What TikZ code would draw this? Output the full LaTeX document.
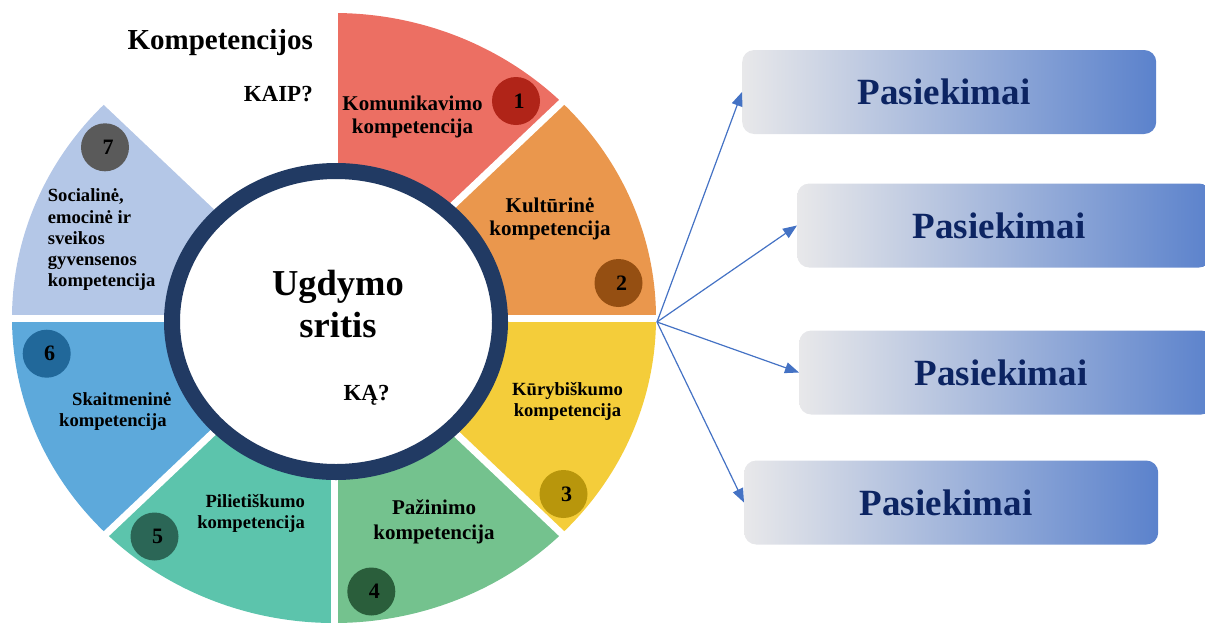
\documentclass[tikz,border=0pt]{standalone}
\usepackage{fontspec}
\setmainfont{Liberation Serif}
\usetikzlibrary{arrows.meta}
\definecolor{cred}{RGB}{236,111,99}
\definecolor{corange}{RGB}{234,151,77}
\definecolor{cyellow}{RGB}{244,205,58}
\definecolor{cgreen}{RGB}{116,194,142}
\definecolor{cteal}{RGB}{92,196,172}
\definecolor{cblue}{RGB}{93,169,219}
\definecolor{clight}{RGB}{180,199,231}
\definecolor{ringc}{RGB}{33,58,99}
\definecolor{n1}{RGB}{176,36,24}
\definecolor{n2}{RGB}{149,79,18}
\definecolor{n3}{RGB}{184,150,12}
\definecolor{n4}{RGB}{42,94,59}
\definecolor{n5}{RGB}{43,102,86}
\definecolor{n6}{RGB}{33,104,154}
\definecolor{n7}{RGB}{90,90,90}
\definecolor{arrblue}{RGB}{68,114,196}
\definecolor{pl}{RGB}{232,232,234}
\definecolor{pm}{RGB}{178,192,222}
\definecolor{pr}{RGB}{91,130,204}
\definecolor{ptxt}{RGB}{12,36,98}
\newcommand\myfs[2]{\fontsize{#1}{#2}\selectfont\bfseries}
\begin{document}
\begin{tikzpicture}[x=1pt,y=-1pt,
  lab/.style={inner sep=0pt, text=black},
  num/.style={circle, inner sep=0pt, minimum size=48pt, text=black, font=\myfs{22}{24}},
  pbox/.style={rounded corners=12pt, minimum width=414pt, minimum height=84pt, inner sep=0pt, anchor=west,
    left color=pl, middle color=pm, right color=pr, text=ptxt, font=\myfs{37}{40}},
  arr/.style={draw=arrblue, line width=1.2pt, -{Triangle[length=14pt,width=11pt]}}]
\useasboundingbox (0,0) rectangle (1205,622);
\clip (0,0) rectangle (1205,622);

% wheel sectors
\begin{scope}[shift={(334,318)}, xscale=322, yscale=305]
  \fill[cred]    (0,0) -- (-90:1) arc[start angle=-90, end angle=-45, radius=1] -- cycle;
  \fill[corange] (0,0) -- (-45:1) arc[start angle=-45, end angle=0,   radius=1] -- cycle;
  \fill[cyellow] (0,0) -- (0:1)   arc[start angle=0,   end angle=45,  radius=1] -- cycle;
  \fill[cgreen]  (0,0) -- (45:1)  arc[start angle=45,  end angle=90,  radius=1] -- cycle;
  \fill[cteal]   (0,0) -- (90:1)  arc[start angle=90,  end angle=135, radius=1] -- cycle;
  \fill[cblue]   (0,0) -- (135:1) arc[start angle=135, end angle=180, radius=1] -- cycle;
  \fill[clight]  (0,0) -- (180:1) arc[start angle=180, end angle=225, radius=1] -- cycle;
  \foreach \a in {-90,-45,...,225} \draw[white, line width=7pt] (0,0) -- (\a:1.1);
\end{scope}

% central ring
\draw[draw=ringc, line width=16pt, fill=white] (336,321.5) ellipse [x radius=164, y radius=150.5];
\node[lab, align=center, font=\myfs{36.5}{42}] (core) at (338,303.6) {Ugdymo\\sritis};
\node[lab, anchor=base, font=\myfs{23}{25}] (ka) at (366.5,400.5) {KĄ?};

% headings
\node[lab, anchor=base east, font=\myfs{29}{31}] (komp) at (313,49) {Kompetencijos};
\node[lab, anchor=base east, font=\myfs{23}{25}] (kaip) at (313,101.7) {KAIP?};

% sector labels
\node[lab, align=center, font=\myfs{21}{23}] (t1) at (412.5,116.7) {Komunikavimo\\kompetencija};
\node[lab, align=center, font=\myfs{21}{23}] (t2) at (550,218.7) {Kultūrinė\\kompetencija};
\node[lab, align=center, font=\myfs{18.6}{21}] (t3) at (567.5,401.2) {Kūrybiškumo\\kompetencija};
\node[lab, align=center, font=\myfs{21}{25}] (t4) at (434,521.6) {Pažinimo\\kompetencija};
\node[lab, align=right, anchor=east, font=\myfs{18.6}{21}] (t5) at (305,513.2) {Pilietiškumo\\kompetencija};
\node[lab, align=left, anchor=west, font=\myfs{18.6}{21}] (t6) at (59,412) {\hspace*{13pt}Skaitmeninė\\kompetencija};
\node[lab, align=left, anchor=west, font=\myfs{18.6}{21.25}] (t7) at (47.7,240) {Socialinė,\\emocinė ir\\sveikos\\gyvensenos\\kompetencija};

% number badges
\node[num, fill=n1] (b1) at (516,101) {\hspace*{6pt}1};
\node[num, fill=n2] (b2) at (618.5,283) {\hspace*{6pt}2};
\node[num, fill=n3] (b3) at (563.5,494) {\hspace*{6pt}3};
\node[num, fill=n4] (b4) at (371.3,591.5) {\hspace*{6pt}4};
\node[num, fill=n5] (b5) at (154.5,536.5) {\hspace*{6pt}5};
\node[num, fill=n6] (b6) at (46.7,353.7) {\hspace*{6pt}6};
\node[num, fill=n7] (b7) at (105,147.3) {\hspace*{6pt}7};

% results boxes
\node[pbox] (p1) at (742,92) {Pasiekimai\hspace*{10pt}};
\node[pbox] (p2) at (797,225.5) {Pasiekimai\hspace*{10pt}};
\node[pbox] (p3) at (799,372.5) {Pasiekimai\hspace*{10pt}};
\node[pbox] (p4) at (744,502.5) {Pasiekimai\hspace*{10pt}};

% connectors
\coordinate (src) at (657,322);
\draw[arr] (src) -- (p1.west);
\draw[arr] (src) -- (p2.west);
\draw[arr] (src) -- (p3.west);
\draw[arr] (src) -- (p4.west);
\end{tikzpicture}
\end{document}
